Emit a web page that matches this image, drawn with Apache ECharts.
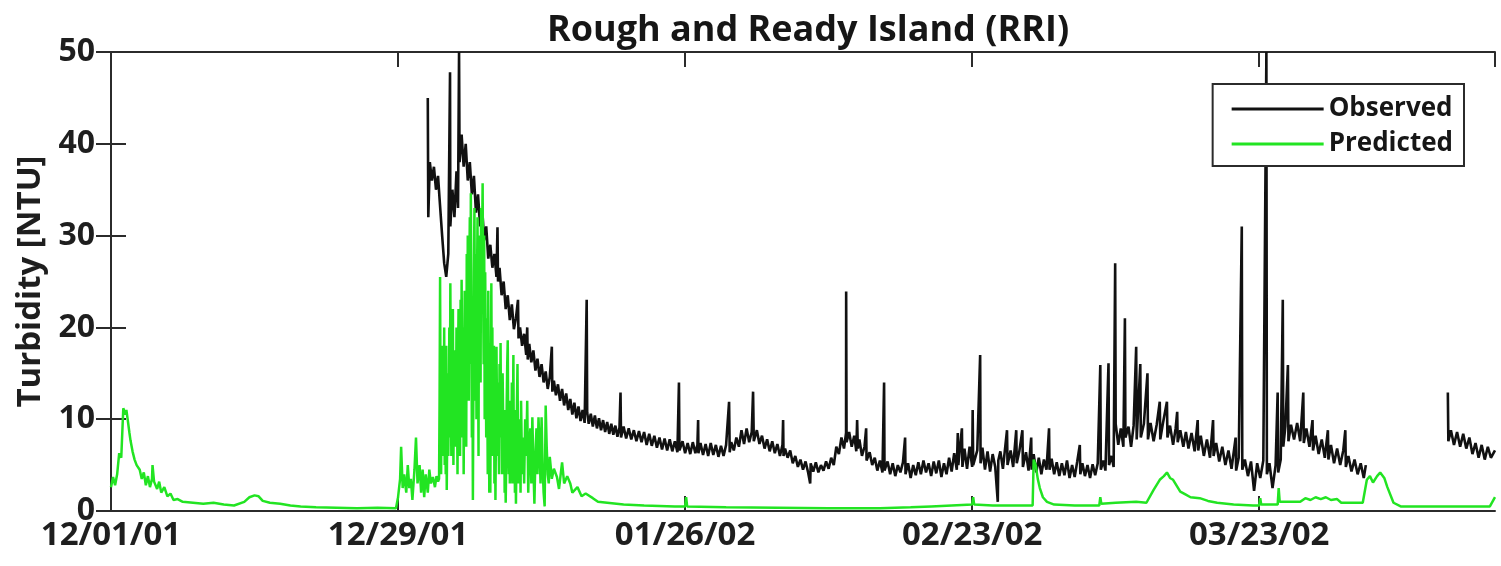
<!DOCTYPE html>
<html>
<head>
<meta charset="utf-8">
<script src="https://cdn.jsdelivr.net/npm/echarts@6/dist/echarts.min.js"></script>
<style>
html,body{margin:0;padding:0;background:#fff;}
#c{width:1501px;height:566px;}
</style>
</head>
<body>
<div id="c"></div>
<script>
// x values are days since 12/01/01
const tickLabels = ['12/01/01', '12/29/01', '01/26/02', '02/23/02', '03/23/02'];
const yTicks = [0, 10, 20, 30, 40, 50];
const seriesNames = ['Observed', 'Predicted'];

const observed = [
[30.9,45],[30.95,32],[31.1,38],[31.3,36],[31.5,37.5],[31.7,35],[31.9,36.5],[32.05,34],
[32.3,30],[32.5,27],[32.7,25.5],[32.9,28],
[33.07,47.8],[33.1,31],[33.3,35],[33.5,32],[33.7,37],[33.85,33],
[33.95,50],[34.0,38],[34.2,41],[34.4,37.5],[34.6,40],[34.8,36],[35.0,38],[35.2,34.5],[35.4,36.5],[35.6,32.5],[35.8,34.5],[36.0,31],[36.2,33],[36.4,29.5],[36.6,31],[36.8,27.5],[37.0,29],[37.2,26.5],[37.4,28],[37.6,25.5],
[37.7,30.9],[37.75,25],[37.9,26.5],[38.1,23.5],[38.3,25],[38.5,22],[38.7,23.5],[38.9,20.8],[39.1,22.5],[39.3,19.8],[39.5,21],
[39.7,23],[39.75,18.8],[39.9,20],[40.1,18],[40.3,19.3],[40.5,17],[40.6,20],[40.65,16.5],[40.8,18.2],[41.0,16.2],[41.2,17.5],[41.4,15.3],[41.6,16.6],[41.8,14.6],[42.0,16],[42.2,14],[42.4,15.2],[42.6,13.3],[42.8,14.6],
[43.0,17.9],[43.05,13],[43.2,14.2],[43.4,12.6],[43.6,13.8],[43.8,12],[44.0,13.3],[44.2,11.5],[44.4,12.8],[44.6,11],[44.8,12.2],[45.0,10.5],[45.2,11.8],[45.4,10.1],[45.6,11.4],[45.8,9.8],[46.0,11],[46.2,9.6],
[46.4,23],[46.45,10.7],[46.6,9.5],[46.8,10.6],[47.0,9.2],[47.2,10.4],[47.4,9],[47.6,10.1],[47.8,8.8],[48.0,9.9],[48.2,8.6],[48.4,9.7],[48.6,8.4],[48.8,9.5],[49.0,8.3],[49.2,9.3],[49.4,8.1],[49.6,9.1],
[49.7,12.9],[49.75,8.0],[50.0,9.2],[50.25,7.9],[50.5,9.0],[50.75,7.8],[51.0,8.8],[51.25,7.6],[51.5,8.7],[51.75,7.5],[52.0,8.6],[52.25,7.2],[52.5,8.4],[52.75,7.1],[53.0,8.2],[53.25,6.9],[53.5,8.0],[53.75,6.7],[54.0,7.9],[54.25,6.6],[54.5,7.8],[54.75,6.5],[55.0,7.6],[55.25,6.4],
[55.4,14],[55.45,6.6],[55.75,7.6],[56.0,6.3],[56.25,7.4],[56.5,6.2],[56.75,7.5],[57.0,6.3],[57.2,7.2],
[57.27,9.9],[57.3,6.3],[57.5,7.4],[57.75,6.1],[58.0,7.3],[58.25,6.0],[58.5,7.4],[58.75,6.1],[59.0,7.2],[59.25,5.9],[59.5,7.1],[59.75,6.0],[60.0,7.2],
[60.29,11.9],[60.35,6.4],[60.5,7.5],[60.75,6.6],[61.0,8.0],[61.25,7.0],[61.5,8.8],[61.75,7.3],[62.0,9.0],[62.25,7.5],[62.5,8.6],
[62.63,13],[62.7,7.6],[63.0,8.8],[63.25,7.3],[63.5,8.2],[63.75,6.8],[64.0,7.8],[64.25,6.5],[64.5,7.6],[64.75,6.3],[65.0,7.3],[65.25,6.0],[65.5,7.2],
[65.56,9.9],[65.6,6.0],[65.75,6.8],[66.0,5.8],[66.25,6.6],[66.5,5.2],[66.75,6.0],[67.0,4.8],[67.25,5.6],[67.5,4.5],[67.75,5.4],[68.0,4.2],[68.2,3.0],[68.25,5.2],[68.5,4.3],[68.75,5.3],[69.0,4.2],[69.25,5.0],[69.5,4.4],[69.75,5.4],[70.0,4.6],[70.25,5.8],[70.5,5.0],[70.75,7.0],[71.0,6.2],[71.25,8.0],[71.5,6.8],[71.7,8.5],
[71.71,23.9],[71.75,7.5],[72.0,8.6],[72.25,7.0],[72.5,8.2],[72.7,6.5],
[72.78,9.9],[72.85,6.8],[73.0,7.8],[73.25,6.0],[73.5,7.0],
[73.66,9],[73.7,5.5],[74.0,6.4],[74.25,5.0],[74.5,5.8],[74.75,4.4],[75.0,5.5],[75.25,4.2],
[75.41,14],[75.45,4.4],[75.75,5.4],[76.0,4.0],[76.25,5.2],[76.5,3.8],[76.75,5.0],[77.0,4.2],[77.25,5.3],
[77.46,8],[77.5,4.0],[77.75,5.2],[78.0,3.6],[78.25,5.0],[78.5,3.9],[78.75,5.3],[79.0,4.0],[79.25,5.5],[79.5,4.2],[79.75,5.2],[80.0,3.8],[80.25,5.4],[80.5,4.1],[80.75,5.5],[81.0,3.7],[81.25,5.2],[81.5,4.0],[81.75,5.8],[82.0,4.3],[82.25,6.3],[82.5,4.5],
[82.6,8.5],[82.65,5.0],[83.0,9],[83.05,4.8],[83.25,6.8],[83.5,4.6],[83.75,7.0],[84.0,4.8],
[84.05,11],[84.1,5.0],[84.5,6.6],[84.78,17],[84.82,5.2],[85.0,6.9],[85.25,4.5],[85.5,6.5],[85.75,4.3],[86.0,6.2],[86.25,4.8],
[86.5,1],[86.55,5.5],[86.75,6.5],[87.0,4.6],[87.4,8.8],[87.45,5.0],[87.75,6.6],[88.0,4.8],[88.3,8.8],[88.35,5.2],[88.6,6.5],[88.9,8.8],[88.95,4.8],[89.25,6.4],[89.5,4.4],
[89.76,8],[89.8,4.5],[90.0,6.2],[90.25,4.2],[90.5,5.8],[90.75,4.0],[91.0,5.6],[91.25,4.5],
[91.5,9],[91.55,4.5],[91.75,5.7],[92.0,4.0],[92.25,5.3],[92.5,3.8],[92.75,5.2],[93.0,3.9],[93.25,5.5],[93.5,3.6],[93.75,5.0],[94.0,3.7],[94.25,5.4],
[94.5,7.2],[94.55,4.0],[94.75,5.2],[95.0,3.8],[95.25,5.0],[95.5,3.6],[95.75,5.1],[96.0,3.9],[96.25,5.2],
[96.5,15.9],[96.55,4.5],[96.8,5.5],[97.0,4.4],[97.3,16.1],[97.35,5.0],[97.6,6.0],[97.8,4.8],
[97.95,27],[98.0,9.5],[98.25,7.2],[98.5,9.0],[98.75,7.0],[98.9,21],[98.95,8.0],[99.25,9.2],[99.5,7.0],[99.75,9.3],
[100.0,17.9],[100.05,7.8],[100.4,16],[100.45,8.0],[100.75,9.5],[101.1,15],[101.15,7.8],[101.4,9.6],[101.7,7.6],[102.0,9.4],
[102.3,11.9],[102.35,7.8],[102.6,9.5],[103.0,11.9],[103.05,8.0],[103.3,9.3],[103.6,7.2],[103.85,9.0],
[104.0,10.8],[104.05,7.5],[104.3,8.8],[104.6,7.0],[104.85,8.6],[105.1,6.8],[105.4,8.5],[105.7,6.5],
[106.0,9.9],[106.05,6.6],[106.3,8.2],[106.6,6.0],[106.9,7.8],[107.2,5.8],
[107.5,9.9],[107.55,6.0],[107.8,7.4],[108.1,5.4],[108.4,7.0],[108.7,5.0],[109.0,6.6],[109.3,4.6],
[109.7,8],[109.75,4.4],[110.0,5.8],[110.3,31],[110.35,4.5],[110.6,5.6],[110.9,3.8],[111.2,5.4],[111.5,2.2],[111.8,5.2],[112.1,3.6],[112.4,5.5],
[112.7,50],[112.75,4.0],[113.0,5.2],[113.3,2.5],[113.6,5.0],
[113.8,12.9],[113.85,4.2],[114.1,5.6],[114.3,23],[114.35,7.0],[114.55,9.2],
[114.8,15.9],[114.85,7.6],[115.1,9.4],[115.4,7.8],[115.7,9.6],[116.0,7.6],
[116.3,12.9],[116.35,7.4],[116.6,9.0],[116.9,7.0],[117.2,9.9],[117.25,6.6],[117.5,8.2],[117.8,6.2],[118.1,7.8],[118.4,5.8],
[118.7,8.8],[118.75,5.6],[119.0,7.2],[119.3,5.2],[119.6,6.8],[119.9,5.0],[120.2,6.6],
[120.4,8.8],[120.45,4.8],[120.7,6.0],[121.0,4.3],[121.3,5.6],[121.6,4.0],[121.9,5.2],[122.2,3.6],[122.4,5.0],
[122.6,'-'],
[130.4,12.9],[130.45,7.6],[130.7,8.8],[131.0,7.2],[131.3,8.6],[131.6,7.0],[131.9,8.4],[132.2,6.8],[132.5,8.0],[132.8,6.2],[133.1,7.4],[133.4,5.8],[133.7,7.2],[134.0,5.6],[134.3,7.0],[134.6,5.8],[135.0,6.6]
];

// Predicted: early and late parts as [day, value]; the dense storm burst is sampled every 0.05 day from day 32
const predictedEarly = [
[0,2.6],[0.2,3.7],[0.4,2.8],[0.6,4.0],[0.8,6.3],[1.0,5.8],[1.1,8.5],[1.2,11.2],[1.4,10.5],[1.5,11.0],[1.6,10.2],[1.8,8.5],[1.9,7.7],[2.1,6.5],[2.3,5.6],[2.5,5.0],[2.8,4.5],[3.0,3.5],[3.2,4.2],[3.4,2.8],[3.6,3.8],[3.8,2.6],[4.0,3.5],[4.05,5.0],[4.2,3.2],[4.5,2.4],[4.7,3.2],[4.9,2.0],[5.2,2.6],[5.5,1.6],[5.8,1.9],[6.1,1.2],[6.5,1.3],[7,1.0],[8,0.9],[9,0.8],[10,0.9],[11,0.7],[12,0.6],[13,1.0],[13.5,1.5],[14.0,1.7],[14.4,1.6],[14.8,1.1],[15.5,0.9],[16.5,0.8],[17.5,0.6],[18.5,0.5],[20,0.4],[22,0.35],[24,0.3],[26,0.35],[27.8,0.3],
[28.0,1.5],[28.2,3.5],[28.3,7.0],[28.45,2.5],[28.6,4.0],[28.8,2.0],[28.95,5.0],[29.1,2.5],[29.25,3.5],[29.4,1.2],[29.6,4.5],[29.75,8.0],[29.9,3.0],[30.1,5.0],[30.25,2.0],[30.4,4.5],[30.55,1.5],[30.7,4.0],[30.9,2.0],[31.05,4.5],[31.2,3.0],[31.4,3.7],[31.6,2.6],[31.75,3.8],[31.9,3.2]
];
const burstStart = 32.0;
const burstStep = 0.05;
const predictedBurst = [
3.5,12,25.5,10,4,18,6,14,17.5,8,20,5,12,4,18,2.3,9,15,6,11,
20,8,24.8,14,6,18,10,22,5,13,17.5,7,15,9.9,20,12,4,16,22,10,
18,6,23,12,25.2,16,8,20,4,15,24,10,18,7,28,14,30,20,12,26,
32,16,34.6,22,8,18,1.2,14,26,33,20,12,28,10,24,32,18,6,30,20,
28,14,33,22,30,35.7,24,16,30,10,26,18,8,21,14,4,24,12,2,16,
2,14,24.8,10,20,6,15,18,3,12,1.2,9,17.9,11,6,14,8.8,4,16,10,
18.3,8,12,4,15,10.2,6,11,2,7,0.9,5,12,16,18.6,9,4,12,3,8,
10.2,6,14,3,9,17,5,11,2,8,0.8,6,12,16,7,3,10,5,9,2
];
const predictedLate = [
[40.0,12],[40.1,4],[40.2,8],[40.3,3],[40.4,10],[40.5,6],[40.6,12],[40.7,2],[40.8,7],[40.9,9],[41.0,3],[41.1,10.2],[41.2,5],[41.3,0.8],[41.4,6],[41.5,9],[41.6,4],[41.7,10.2],[41.8,7],[41.9,3],[42.0,10.2],[42.1,5],[42.2,2],[42.3,0.5],[42.4,11.5],[42.5,7],[42.6,4],[42.7,3],[42.8,5.9],
[43.0,3.5],[43.2,4.6],[43.5,3.7],[43.7,2.4],[44.0,5.3],[44.2,3.0],[44.5,3.8],[44.8,3.0],[45.0,2.0],[45.5,2.6],[45.9,1.6],[46.3,1.9],[47.0,1.4],[47.5,1.0],[48.4,0.9],[50,0.7],[52,0.6],[55,0.5],[56.0,0.5],[56.1,1.5],[56.2,0.5],[60,0.4],[65,0.35],[70,0.3],[75,0.3],[78,0.4],[80,0.5],[82,0.6],[84,0.7],[84.1,1.5],[84.2,0.7],[86,0.6],[89.9,0.6],
[90.0,5.6],[90.2,5.0],[90.4,3.5],[90.6,2.5],[90.9,1.5],[91.3,1.0],[92.0,0.7],[94,0.6],[96.4,0.6],[96.5,1.5],[96.6,0.8],[98,0.9],[100,1.0],[101,0.9],
[101.7,2.3],[102.3,3.4],[102.7,3.8],[103.0,4.2],[103.3,3.6],[103.6,3.4],[104.3,2.1],[104.8,1.8],[105.3,1.5],[106.2,1.4],[107.0,1.1],[107.9,0.9],[109.5,0.7],[111.4,0.6],[112.0,0.6],[112.1,1.4],[112.2,0.7],[113.8,0.7],[113.9,2.5],[114.0,1.0],[116,1.0],[116.5,1.4],[117,1.2],[117.5,1.5],[118,1.3],[118.5,1.5],[119,1.2],[119.6,1.3],[120,0.9],[122.1,0.9],
[122.5,3.4],[122.8,3.8],[123.1,3.1],[123.5,3.8],[123.8,4.2],[124.2,3.6],[124.5,2.6],[125.1,0.9],[125.8,0.5],[130,0.5],[134.5,0.5],[135,1.5]
];
const predicted = predictedEarly
  .concat(predictedBurst.map(function (v, i) { return [+(burstStart + i * burstStep).toFixed(2), v]; }))
  .concat(predictedLate);

const axisColor = '#2b2b2b';
const font = 'Open Sans';
const chart = echarts.init(document.getElementById('c'), null, {renderer: 'canvas'});

const xBase = {
  type: 'value', min: 0, max: 135, interval: 28,
  axisLine: {show: true, onZero: false, lineStyle: {color: axisColor, width: 2}},
  axisTick: {show: true, inside: true, length: 15, lineStyle: {color: axisColor, width: 2}},
  splitLine: {show: false}
};
const yBase = {
  type: 'value', min: yTicks[0], max: yTicks[yTicks.length - 1], interval: 10,
  axisLine: {show: true, lineStyle: {color: axisColor, width: 2}},
  axisTick: {show: true, inside: true, length: 15, lineStyle: {color: axisColor, width: 2}},
  splitLine: {show: false}
};

chart.setOption({
  animation: false,
  backgroundColor: '#ffffff',
  title: {
    text: 'Rough and Ready Island (RRI)',
    left: 803, top: 8, textAlign: 'center',
    textStyle: {fontFamily: font, fontWeight: 'bold', fontSize: 36, color: '#161616'}
  },
  grid: {left: 111, right: 6, top: 52, bottom: 55, containLabel: false},
  legend: {
    data: seriesNames,
    orient: 'vertical',
    right: 37, top: 84,
    padding: [12, 11, 9, 19],
    itemGap: 9,
    icon: 'rect',
    itemWidth: 92, itemHeight: 3,
    backgroundColor: '#ffffff',
    borderColor: axisColor, borderWidth: 2,
    textStyle: {fontFamily: font, fontWeight: 'bold', fontSize: 26, color: '#161616'}
  },
  xAxis: [
    Object.assign({}, xBase, {
      position: 'bottom',
      axisLabel: {
        show: true, margin: 8, showMaxLabel: false,
        fontFamily: font, fontWeight: 'bold', fontSize: 33, color: '#1e1e1e',
        formatter: function (v) { const i = Math.round(v / 28); return (Math.abs(v - i * 28) < 1e-6 && tickLabels[i]) ? tickLabels[i] : ''; }
      }
    }),
    Object.assign({}, xBase, {position: 'top', axisLabel: {show: false}})
  ],
  yAxis: [
    Object.assign({}, yBase, {
      position: 'left',
      name: 'Turbidity [NTU]', nameLocation: 'middle', nameGap: 60,
      nameTextStyle: {fontFamily: font, fontWeight: 'bold', fontSize: 33, color: '#1e1e1e'},
      axisLabel: {show: true, margin: 16, fontFamily: font, fontWeight: 'bold', fontSize: 32, color: '#1e1e1e'}
    }),
    Object.assign({}, yBase, {position: 'right', axisLabel: {show: false}})
  ],
  series: [
    {
      name: seriesNames[0], type: 'line', xAxisIndex: 0, yAxisIndex: 0,
      data: observed, showSymbol: false, symbol: 'none', connectNulls: false,
      lineStyle: {color: '#111111', width: 2.6}, itemStyle: {color: '#111111'}, z: 2
    },
    {
      name: seriesNames[1], type: 'line', xAxisIndex: 0, yAxisIndex: 0,
      data: predicted, showSymbol: false, symbol: 'none',
      lineStyle: {color: '#22e422', width: 2.5}, itemStyle: {color: '#22e422'}, z: 3
    }
  ]
});
</script>
</body>
</html>
